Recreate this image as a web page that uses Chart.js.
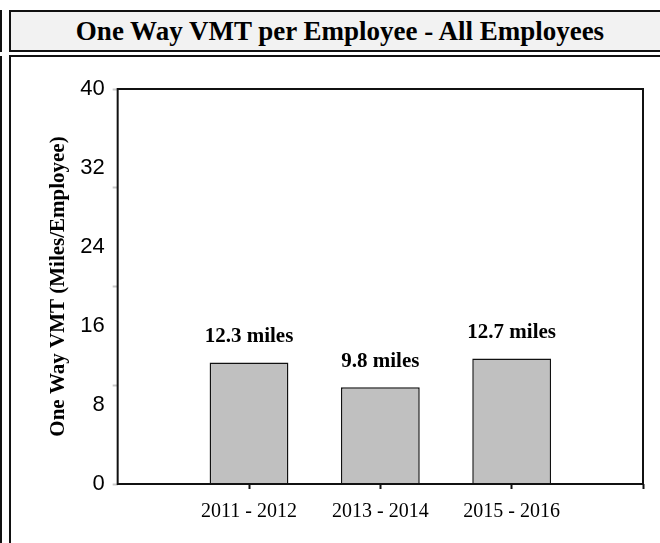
<!DOCTYPE html>
<html>
<head>
<meta charset="utf-8">
<script src="https://cdn.jsdelivr.net/npm/chart.js@4"></script>
<style>
  html, body { margin: 0; padding: 0; background: #fff; }
  #wrap { position: relative; width: 660px; height: 543px; overflow: hidden; }
  .edge { position: absolute; left: 0; width: 2px; background: #111; }
  #titleBox {
    position: absolute; left: 9px; top: 10px; width: 658px; height: 38px;
    border: 2px solid #111; background: #f2f2f2;
    font: bold 27px "Liberation Serif", "Times New Roman", serif;
    text-align: center; line-height: 38px; color: #000;
  }
  #panel {
    position: absolute; left: 9px; top: 55px; width: 700px; height: 600px;
    border: 2px solid #111; background: #fff;
  }
  #vmtChart { position: absolute; left: 0; top: 0; }
</style>
</head>
<body>
<div id="wrap">
  <div class="edge" style="top:10px;height:42px"></div>
  <div class="edge" style="top:56px;height:487px"></div>
  <div id="titleBox">One Way VMT per Employee - All Employees</div>
  <div id="panel"></div>
  <canvas id="vmtChart" width="660" height="543"></canvas>
</div>
<script>
// periods (empty slots at both ends so the bars sit on ticks 1..3)
const periods = ["", "2011 - 2012", "2013 - 2014", "2015 - 2016", ""];
const vmtMiles = [null, 12.3, 9.8, 12.7, null];
const yLabelTicks = [0, 8, 16, 24, 32, 40];
const yMarkTicks = [0, 10, 20, 30, 40];

// frame around the plot area + value labels above bars
const framePlugin = {
  id: "frame",
  afterDatasetsDraw(chart) {
    const { ctx, chartArea: a } = chart;
    ctx.save();
    ctx.strokeStyle = "#111";
    ctx.lineWidth = 2;
    ctx.strokeRect(a.left, a.top, a.right - a.left, a.bottom - a.top);

    ctx.fillStyle = "#000";
    ctx.font = "bold 21px 'Liberation Serif', 'Times New Roman', serif";
    ctx.textAlign = "center";
    ctx.textBaseline = "middle";
    const meta = chart.getDatasetMeta(0);
    meta.data.forEach((bar, i) => {
      const v = vmtMiles[i];
      if (v === null) return;
      ctx.fillText(v + " miles", bar.x, bar.y - 26);
    });
    ctx.restore();
  }
};

const ctx = document.getElementById("vmtChart").getContext("2d");

new Chart(ctx, {
  type: "bar",
  data: {
    labels: periods,
    datasets: [{
      data: vmtMiles,
      backgroundColor: "#c0c0c0",
      borderColor: "#111",
      borderWidth: 1.5,
      categoryPercentage: 1,
      barPercentage: 0.6
    }]
  },
  options: {
    responsive: false,
    animation: false,
    maintainAspectRatio: false,
    layout: { padding: { top: 89, left: 46, right: 17, bottom: 8 } },
    plugins: { legend: { display: false }, tooltip: { enabled: false } },
    scales: {
      x: {
        offset: false,
        border: { display: false },
        grid: {
          offset: false,
          drawOnChartArea: false,
          tickLength: 5,
          tickWidth: 2,
          tickColor: (c) => (c.index === 0 ? "rgba(0,0,0,0)" : "#111")
        },
        ticks: {
          color: "#000",
          padding: 11,
          maxRotation: 0,
          autoSkip: false,
          font: { family: "'Liberation Serif', 'Times New Roman', serif", size: 20 }
        }
      },
      y: {
        min: 0,
        max: 40,
        border: { display: false },
        grid: {
          drawOnChartArea: false,
          tickLength: 5,
          tickWidth: 2,
          tickColor: (c) => (yMarkTicks.includes(c.tick.value) ? "#c8c8c8" : "rgba(0,0,0,0)")
        },
        afterBuildTicks: (scale) => {
          const vals = [...new Set([...yLabelTicks, ...yMarkTicks])].sort((p, q) => p - q);
          scale.ticks = vals.map((v) => ({ value: v }));
        },
        ticks: {
          autoSkip: false,
          color: "#000",
          padding: 8,
          font: { family: "'Liberation Sans', Arial, sans-serif", size: 22 },
          callback: (v) => (yLabelTicks.includes(v) ? String(v) : "")
        },
        title: {
          display: true,
          text: "One Way VMT (Miles/Employee)",
          color: "#000",
          padding: { top: 0, bottom: 1 },
          font: { family: "'Liberation Serif', 'Times New Roman', serif", size: 21, weight: "bold" }
        }
      }
    }
  },
  plugins: [framePlugin]
});
</script>
</body>
</html>
